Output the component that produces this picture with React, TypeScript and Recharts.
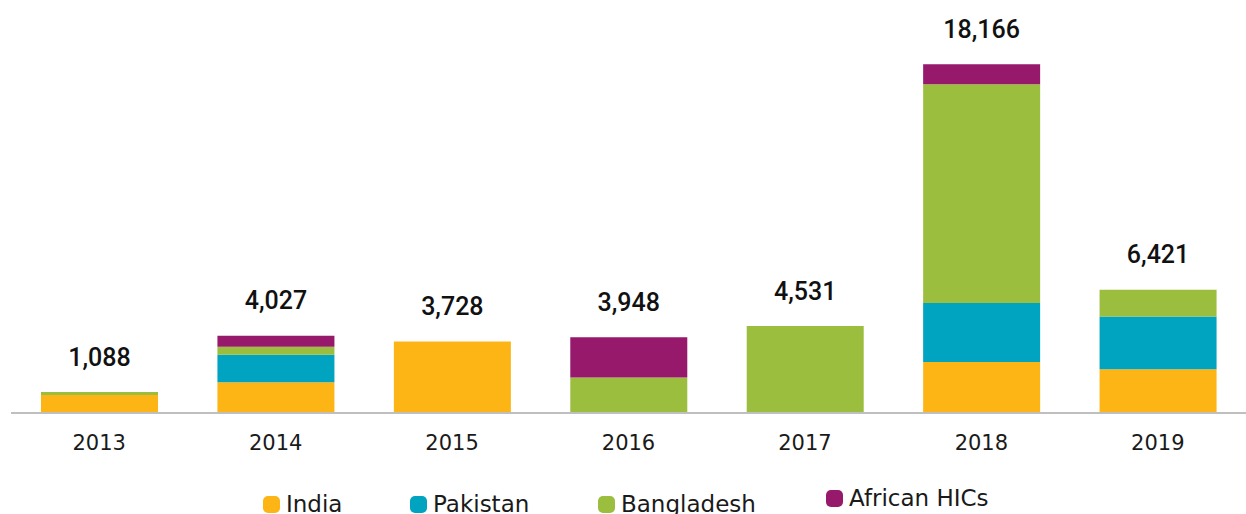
import { Bar, BarChart, LabelList, XAxis, YAxis } from 'recharts';

const years = ['2013', '2014', '2015', '2016', '2017', '2018', '2019'];
const india = [938, 1597, 3728, 0, 0, 2655, 2280];
const pakistan = [0, 1441, 0, 0, 0, 3071, 2745];
const bangladesh = [150, 416, 0, 1850, 4531, 11400, 1396];
const africanHics = [0, 573, 0, 2098, 0, 1040, 0];
const totals = ['1,088', '4,027', '3,728', '3,948', '4,531', '18,166', '6,421'];

const COLORS = {
  india: '#FDB515',
  pakistan: '#00A4C1',
  bangladesh: '#9CBE3F',
  african: '#97196B',
};

const data = years.map((year, i) => ({
  year,
  india: india[i],
  pakistan: pakistan[i],
  bangladesh: bangladesh[i],
  african: africanHics[i],
}));

const series = [
  { key: 'india', values: india, color: COLORS.india },
  { key: 'pakistan', values: pakistan, color: COLORS.pakistan },
  { key: 'bangladesh', values: bangladesh, color: COLORS.bangladesh },
  { key: 'african', values: africanHics, color: COLORS.african },
];

// topmost non-zero series per year, that one carries the total label
const topKey = years.map((_, i) => {
  let key = '';
  series.forEach((s) => {
    if (s.values[i] > 0) key = s.key;
  });
  return key;
});

const FONT = '"DejaVu Sans", sans-serif';
const LABEL_FONT = 'Roboto, "Noto Sans", sans-serif';

const legendItems = [
  { label: 'India', color: COLORS.india, left: 263, top: 491 },
  { label: 'Pakistan', color: COLORS.pakistan, left: 410, top: 491 },
  { label: 'Bangladesh', color: COLORS.bangladesh, left: 598, top: 491 },
  { label: 'African HICs', color: COLORS.african, left: 826, top: 485 },
];

function makeTotalLabel(seriesKey: string) {
  return (props: any) => {
    const { x, y, width, value } = props;
    const i = years.indexOf(String(value));
    if (i < 0 || topKey[i] !== seriesKey) return null;
    return (
      <text
        x={x + width / 2}
        y={y - 35}
        textAnchor="middle"
        dominantBaseline="central"
        fontFamily={LABEL_FONT}
        fontWeight={500}
        fontSize={25}
        fill="#111"
      >
        {totals[i]}
      </text>
    );
  };
}

export default function App() {
  return (
    <div style={{ position: 'absolute', left: 0, top: 0, width: 1246, height: 514, overflow: 'hidden' }}>
      <BarChart
        width={1246}
        height={514}
        data={data}
        margin={{ top: 29, right: 0, bottom: 0, left: 11 }}
      >
        <XAxis
          dataKey="year"
          height={101}
          tickLine={false}
          axisLine={{ stroke: '#bfbfbf', strokeWidth: 2 }}
          tick={{ fontSize: 21, fill: '#1a1a1a', fontFamily: FONT }}
          tickMargin={16}
        />
        <YAxis hide domain={[0, 20000]} />
        {series.map((s) => (
          <Bar
            key={s.key}
            dataKey={s.key}
            stackId="a"
            fill={s.color}
            barSize={117}
            isAnimationActive={false}
          >
            <LabelList dataKey="year" content={makeTotalLabel(s.key)} />
          </Bar>
        ))}
      </BarChart>
      {legendItems.map((item) => (
        <div
          key={item.label}
          style={{
            position: 'absolute',
            left: item.left,
            top: item.top,
            display: 'flex',
            alignItems: 'center',
            fontFamily: FONT,
            fontSize: 23,
            color: '#1a1a1a',
            whiteSpace: 'nowrap',
          }}
        >
          <span
            style={{
              display: 'inline-block',
              width: 17,
              height: 17,
              borderRadius: 5,
              background: item.color,
              marginRight: 6,
            }}
          />
          {item.label}
        </div>
      ))}
    </div>
  );
}
